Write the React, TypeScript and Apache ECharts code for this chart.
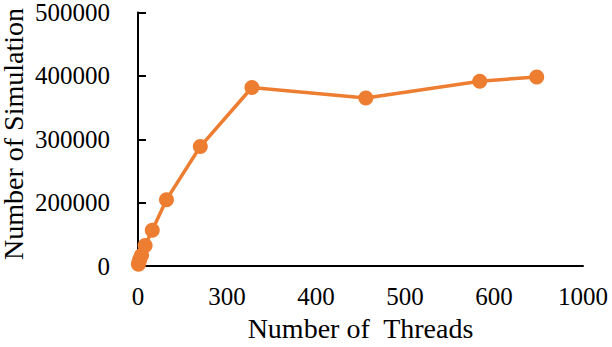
import React, { useEffect, useRef } from "react";
import * as echarts from "echarts";

// Thread counts (x) and simulation counts (y, in the axis's linear space)
const threads = [1, 2, 4, 8, 16, 32, 64, 140, 256, 512, 768, 896];
const simulations = [3000, 6100, 10700, 17200, 32500, 56400, 104800, 188600, 281700, 265300, 291700, 298400];

// Tick labels as printed on the chart
const xTickLabels = ["0", "300", "400", "500", "600", "1000"];
const yTickLabels = ["0", "200000", "300000", "400000", "500000"];

const X_INTERVAL = 200;
const Y_INTERVAL = 100000;

export default function App() {
  const ref = useRef<HTMLDivElement>(null);

  useEffect(() => {
    if (!ref.current) return;
    const chart = echarts.init(ref.current, undefined, { renderer: "svg" });
    const font = "Liberation Serif";
    chart.setOption({
      animation: false,
      textStyle: { fontFamily: font },
      grid: { left: 138, right: 29, top: 10.7, bottom: 74, containLabel: false },
      xAxis: {
        type: "value",
        min: 0,
        max: 1000,
        interval: X_INTERVAL,
        name: "Number of  Threads",
        nameLocation: "middle",
        nameGap: 46,
        nameTextStyle: { fontFamily: font, fontSize: 28, color: "#000" },
        axisLine: { show: true, lineStyle: { color: "#000", width: 2 } },
        axisTick: { show: false },
        splitLine: { show: false },
        axisLabel: {
          margin: 18,
          fontFamily: font,
          fontSize: 25,
          color: "#000",
          formatter: (v: number) => xTickLabels[Math.round(v / X_INTERVAL)] ?? "",
        },
      },
      yAxis: {
        type: "value",
        min: 0,
        max: 400000,
        interval: Y_INTERVAL,
        axisLine: { show: true, lineStyle: { color: "#000", width: 2 } },
        axisTick: { show: true, inside: true, length: 8, lineStyle: { color: "#000", width: 2 } },
        splitLine: { show: false },
        axisLabel: {
          margin: 28,
          fontFamily: font,
          fontSize: 25,
          color: "#000",
          formatter: (v: number) => yTickLabels[Math.round(v / Y_INTERVAL)] ?? "",
        },
      },
      graphic: [
        {
          type: "text",
          x: 13,
          y: 134,
          rotation: Math.PI / 2,
          style: {
            text: "Number of Simulation",
            fontFamily: font,
            fontSize: 28,
            lineHeight: 24,
            fill: "#000",
            align: "center",
            verticalAlign: "middle",
          },
        },
      ],
      series: [
        {
          type: "line",
          data: threads.map((t, i) => [t, simulations[i]]),
          symbol: "circle",
          symbolSize: 15,
          lineStyle: { color: "#ED7D31", width: 3.5 },
          itemStyle: { color: "#ED7D31" },
        },
      ],
    });
    return () => chart.dispose();
  }, []);

  return (
    <div
      ref={ref}
      style={{ position: "absolute", left: 0, top: 0, width: 612, height: 347, background: "#fff" }}
    />
  );
}
